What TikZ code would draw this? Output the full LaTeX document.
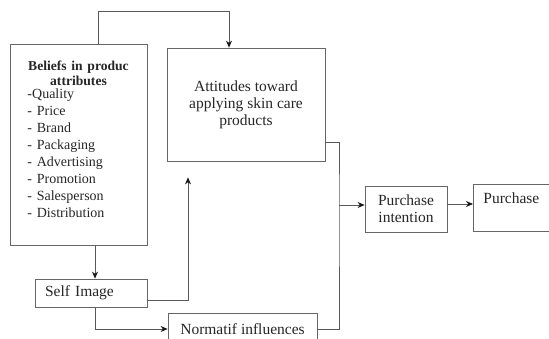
\documentclass[tikz,border=0pt]{standalone}
\usepackage{fontspec}
\setmainfont{Liberation Serif}
\usetikzlibrary{arrows.meta}

\begin{document}
\begin{tikzpicture}[x=1pt, y=-1pt,
                    every node/.style={draw=black!60, line width=0.8pt, text=black!85, inner sep=0pt,
                                       font=\fontsize{15.5}{17}\selectfont},
                    link/.style={draw=black!65, line width=0.8pt},
                    >={Stealth[length=7pt,width=6pt,color=black!90]}]
  \useasboundingbox (0,0) rectangle (549,339);
  % left boxes
  \node (beliefs) at (78.5,144.5) [text width=105pt, inner xsep=16pt, minimum height=201pt, align=left,
                                   font=\fontsize{14}{17}\selectfont]
    {{\centering\bfseries\fontsize{13.6}{15}\selectfont Beliefs in produc\\ attributes\par}
     \vspace{-4pt}
     \hspace*{1.5pt}-Quality\\ \hspace*{1.5pt}- Price\\ \hspace*{1.5pt}- Brand\\ \hspace*{1.5pt}- Packaging\\
     \hspace*{1.5pt}- Advertising\\ \hspace*{1.5pt}- Promotion\\ \hspace*{1.5pt}- Salesperson\\
     \hspace*{1.5pt}- Distribution\par
     \vspace*{11pt}};
  \node (self) at (91,293) [text width=92pt, inner xsep=10pt, minimum height=28pt, align=left] {Self Image};
  % middle boxes
  \node (attitudes) at (246,104.5) [minimum width=158pt, minimum height=113pt, align=center]
    {Attitudes toward\\ applying skin care\\ products};
  \node (normatif) at (242.5,329) [minimum width=149pt, minimum height=32pt] {Normatif influences};
  % right boxes
  \node (pi) at (406,209) [minimum width=82pt, minimum height=46pt, align=center] {Purchase\\ intention};
  \node (purchase) at (473,184) [anchor=north west, text width=58pt, inner xsep=10pt,
                                 text height=19pt, text depth=28pt, align=left] {Purchase};
  % connectors
  \draw[link,->] ([xshift=19.5pt]beliefs.north) -- ++(0,-32) -| ([xshift=-17pt]attitudes.north);
  \draw[link,->] ([xshift=16.5pt]beliefs.south) -- ([xshift=4pt]self.north);
  \draw[link,->,shorten >=16pt] ([yshift=-7pt]self.east) -| ([xshift=-58pt]attitudes.south);
  \draw[link,->] ([xshift=4pt]self.south) |- (normatif.west);
  \coordinate (merge) at (339,205);
  \draw[link] ([yshift=-37.5pt]attitudes.east) -| (merge) |- (normatif.east);
  \draw[link,->] (merge) -- (merge -| pi.west);
  \draw[link,->] ([yshift=5pt]pi.east) -- ([yshift=5pt]pi.east -| purchase.west);
\end{tikzpicture}
\end{document}
